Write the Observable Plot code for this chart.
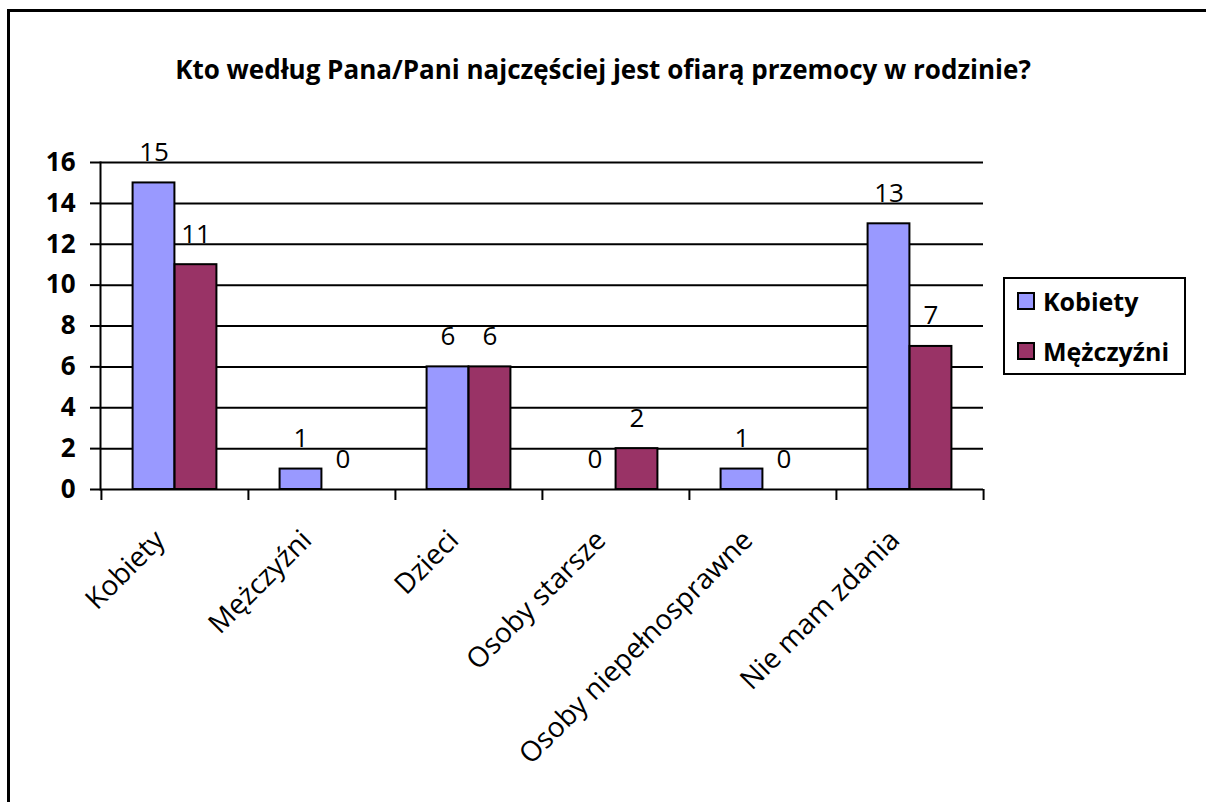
<!DOCTYPE html>
<html>
<head>
<meta charset="utf-8">
<script src="https://cdn.jsdelivr.net/npm/d3@7"></script>
<script src="https://cdn.jsdelivr.net/npm/@observablehq/plot@0.6"></script>
<style>
  html, body { margin: 0; padding: 0; background: #fff; }
  #wrap { position: relative; width: 1206px; height: 802px; overflow: hidden; font-family: "Open Sans", sans-serif; }
  #border { position: absolute; left: 7px; top: 9px; right: -10px; bottom: -10px; border-left: 3px solid #000; border-top: 3px solid #000; }
  #title { position: absolute; left: 0; width: 1206px; top: 52px; text-align: center; font-weight: bold; font-size: 26px; line-height: 34px; color: #000; }
  #legend { position: absolute; left: 1003px; top: 277px; width: 179px; height: 94px; border: 2px solid #000; background: #fff; }
  .li { position: absolute; left: 12px; display: flex; align-items: center; font-weight: bold; font-size: 25px; }
  .sw { width: 14px; height: 14px; border: 2px solid #000; margin-right: 8px; }
  #chart { position: absolute; left: 0; top: 0; }
  #chart svg text { font-family: "Open Sans", sans-serif; }
</style>
</head>
<body>
<div id="wrap">
  <div id="border"></div>
  <div id="chart"></div>
  <div id="title"></div>
  <div id="legend"></div>
</div>
<script>
const titleText = "Kto według Pana/Pani najczęściej jest ofiarą przemocy w rodzinie?";
const categories = ["Kobiety", "Mężczyźni", "Dzieci", "Osoby starsze", "Osoby niepełnosprawne", "Nie mam zdania"];
const seriesNames = ["Kobiety", "Mężczyźni"];
const seriesColors = ["#9999FF", "#993366"];
const kobietyValues = [15, 1, 6, 0, 1, 13];
const mezczyzniValues = [11, 0, 6, 2, 0, 7];
const yTicks = [0, 2, 4, 6, 8, 10, 12, 14, 16];

const kob = categories.map((c, i) => ({cat: c, v: kobietyValues[i]}));
const mez = categories.map((c, i) => ({cat: c, v: mezczyzniValues[i]}));

const W = 1206, H = 802;
const mL = 100, mR = 223, mT = 162, mB = 313;
const band = (W - mL - mR) / categories.length;
const barW = 42;
const sidePad = band / 2 - barW;

const font = "'Open Sans', sans-serif";

const plot = Plot.plot({
  width: W,
  height: H,
  marginLeft: mL,
  marginRight: mR,
  marginTop: mT,
  marginBottom: mB,
  style: {fontFamily: font, background: "transparent", color: "#000"},
  x: {domain: categories, padding: 0, axis: null},
  y: {domain: [0, 16], axis: null},
  marks: [
    Plot.ruleY(yTicks, {y: d => d, stroke: "#000", strokeWidth: 2}),
    Plot.barY(kob, {x: "cat", y: "v", fill: seriesColors[0], stroke: "#000", strokeWidth: 2, insetLeft: sidePad, insetRight: band / 2}),
    Plot.barY(mez, {x: "cat", y: "v", fill: seriesColors[1], stroke: "#000", strokeWidth: 2, insetLeft: band / 2, insetRight: sidePad}),
    Plot.frame({anchor: "left", stroke: "#000", strokeWidth: 2}),
    Plot.ruleY(yTicks, {y: d => d, stroke: "#000", strokeWidth: 2, insetLeft: -10, insetRight: W - mL - mR}),
    Plot.text(yTicks, {y: d => d, frameAnchor: "left", text: d => String(d), textAnchor: "end", dx: -25, fontSize: 26, fontWeight: "bold", fontFamily: font}),
    // category boundary ticks
    Plot.ruleX(categories, {x: d => d, y1: 0, y2: 0, dx: -band / 2, insetBottom: -11, stroke: "#000", strokeWidth: 2}),
    Plot.ruleX([categories[categories.length - 1]], {x: d => d, y1: 0, y2: 0, dx: band / 2, insetBottom: -11, stroke: "#000", strokeWidth: 2}),
    // value labels
    Plot.text(kob, {x: "cat", y: "v", text: d => String(d.v), dx: -barW / 2, dy: -22, lineAnchor: "bottom", fontSize: 26, fontFamily: font}),
    Plot.text(mez, {x: "cat", y: "v", text: d => String(d.v), dx: barW / 2, dy: -22, lineAnchor: "bottom", fontSize: 26, fontFamily: font}),
    // category labels
    Plot.text(categories, {x: d => d, y: 0, text: d => d, rotate: -45, textAnchor: "end", lineAnchor: "middle", dx: -15, dy: 46, fontSize: 28, fontFamily: font})
  ]
});
document.getElementById("chart").appendChild(plot);

document.getElementById("title").textContent = titleText;
const legend = document.getElementById("legend");
seriesNames.forEach((s, i) => {
  const row = document.createElement("div");
  row.className = "li";
  row.style.top = (i === 0 ? 7 : 57) + "px";
  row.style.height = "30px";
  const sw = document.createElement("div");
  sw.className = "sw";
  sw.style.background = seriesColors[i];
  row.appendChild(sw);
  const t = document.createElement("span");
  t.textContent = s;
  row.appendChild(t);
  legend.appendChild(row);
});
</script>
</body>
</html>
